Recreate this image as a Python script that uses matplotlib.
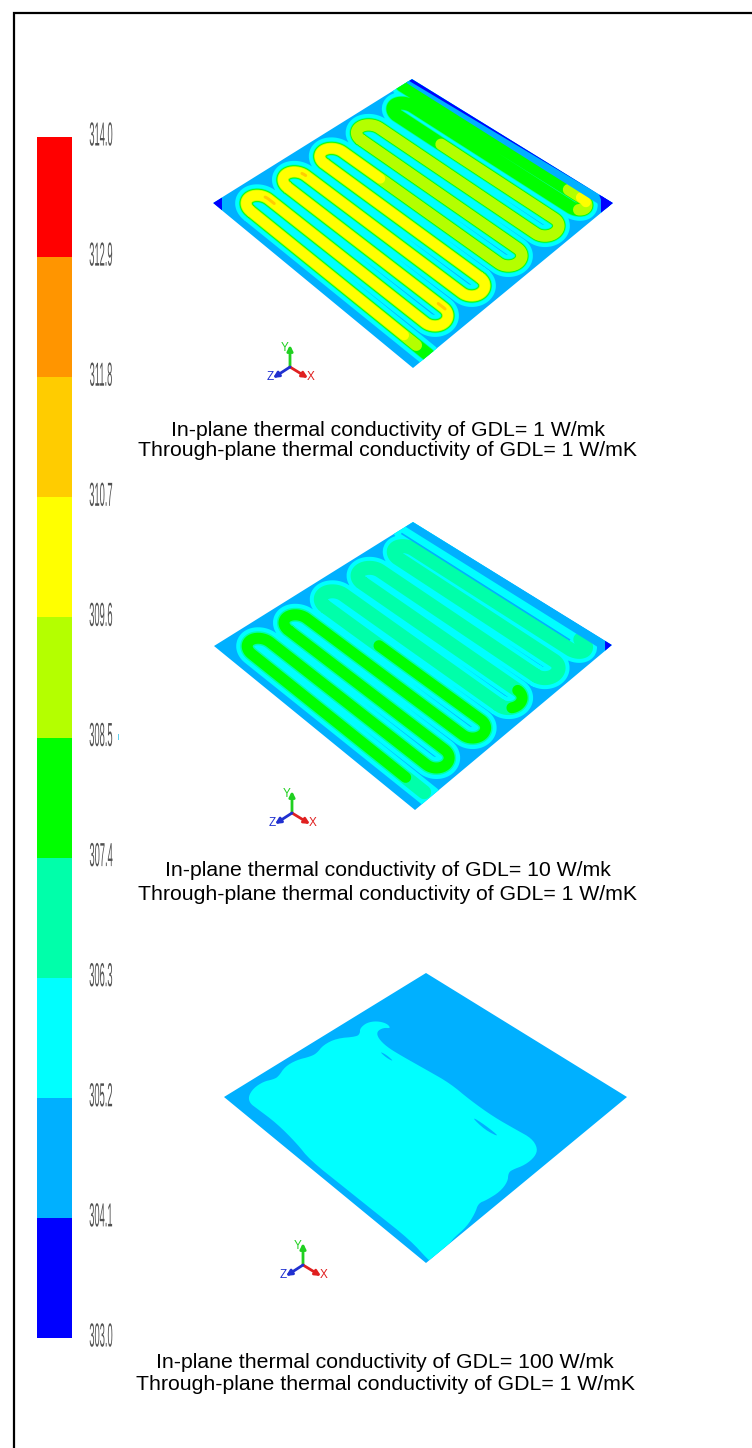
import matplotlib
matplotlib.use("Agg")
import matplotlib.pyplot as plt
from matplotlib.patches import Polygon, Rectangle
from matplotlib.patheffects import AbstractPathEffect
from matplotlib.transforms import Affine2D
import numpy as np

# colour scale
levels = [303.0, 304.1, 305.2, 306.3, 307.4, 308.5, 309.6, 310.7, 311.8, 312.9, 314.0]
level_colors = ["#0000FF", "#00B0FF", "#00FFFF", "#00FFAA", "#00FF00",
                "#B4FF00", "#FFFF00", "#FFCC00", "#FF9500", "#FF0000"]
DARK, BLUE, CYAN, SPRING, GREEN, LIME, YELLOW, GOLD = level_colors[:8]

captions = [
    ["In-plane thermal conductivity of GDL= 1 W/mk", "Through-plane thermal conductivity of GDL= 1 W/mK"],
    ["In-plane thermal conductivity of GDL= 10 W/mk", "Through-plane thermal conductivity of GDL= 1 W/mK"],
    ["In-plane thermal conductivity of GDL= 100 W/mk", "Through-plane thermal conductivity of GDL= 1 W/mK"],
]
caption_y = [[430, 451], [871, 894], [1362, 1385]]

# plate corners in the picture: left, top, right, bottom
plate_1 = [(213, 203), (412, 79), (613, 203), (413, 368)]
plate_2 = [(214, 646), (413, 522), (612, 645), (415, 810)]
plate_3 = [(224, 1097), (426, 973), (627, 1097), (426, 1263)]
triad_centres = [(290, 367), (292, 813), (303, 1265)]

# serpentine channel, position of each strand across the plate
strand_u = [.078, .17, .263, .355, .448, .54, .633, .725, .818, .893, .95]

# bands of the two serpentine plates: colour, width in px, spans along channel
bands_1 = [
    (CYAN, 22, [(0, 11)]),
    (SPRING, 14.5, [(0, 11)]),
    (GREEN, 13, [(0, 11)]),
    (LIME, 11.5, [(.05, 8.6), (9.85, 10.06)]),
    (YELLOW, 10, [(.1, 5.2), (9.95, 10.02)]),
    (GOLD, 3, [(.97, 1.03), (2.97, 3.02), (1.98, 2.03)]),
]
bands_2 = [
    (CYAN, 22, [(0, 11)]),
    (SPRING, 14, [(.02, 10)]),
    (GREEN, 11, [(.1, 4.55), (5.86, 6.0)]),
]

# plate 3 contour outline and slits, in px relative to the crop corner
outline_x = [115, 130, 160, 190, 205, 225, 260, 300, 320, 340, 380, 440, 450, 450, 470, 500, 530, 543,
             520, 500, 505, 530, 570, 650, 720, 780, 850, 920, 965, 983, 975, 945, 905, 895, 893, 870,
             830, 805, 795, 770, 730, 720, 660, 655, 600, 500, 400, 300, 260, 200, 140, 120]
outline_y = [410, 385, 365, 358, 350, 320, 300, 290, 280, 255, 235, 230, 220, 205, 188, 183, 190, 205,
             203, 215, 235, 260, 285, 330, 370, 420, 470, 510, 535, 565, 590, 615, 630, 640, 665, 695,
             720, 730, 760, 800, 835, 850, 900, 900, 840, 760, 680, 600, 550, 490, 445, 430]
slit_a_x = [508, 530, 552, 530]
slit_a_y = [274, 285, 305, 294]
slit_b_x = [782, 825, 872, 825]
slit_b_y = [468, 495, 533, 510]


class Squeeze(AbstractPathEffect):
    # narrow the glyphs sideways, the labels are stretched tall in the original
    def __init__(self, sx):
        super().__init__()
        self.sx = sx

    def draw_path(self, renderer, gc, tpath, affine, rgbFace=None):
        box = tpath.transformed(affine).get_extents()
        cx = (box.x0 + box.x1) / 2
        squeezed = affine + Affine2D().translate(-cx, 0).scale(self.sx, 1).translate(cx, 0)
        renderer.draw_path(gc, tpath, squeezed, rgbFace)


def to_px(plate, u, v):
    L, T, R, B = [np.array(c, dtype=float) for c in plate]
    u = np.asarray(u)[..., None]
    v = np.asarray(v)[..., None]
    return (1 - u) * (1 - v) * L + u * (1 - v) * T + u * v * R + (1 - u) * v * B


def channel_path():
    us, vs, ss = [], [], []
    r = .05
    for k, uk in enumerate(strand_u):
        going_up = k % 2 == 0
        v0 = 1.0 if k == 0 else (.89 if going_up else .11)
        v1 = 0.0 if k == 10 else (.11 if going_up else .89)
        t = np.linspace(0, .8, 30)
        us += [np.full(30, uk)]
        vs += [v0 + (v1 - v0) * t / .8]
        ss += [k + t]
        if k < 10:
            mid = (uk + strand_u[k + 1]) / 2
            half = (strand_u[k + 1] - uk) / 2
            a = np.linspace(np.pi, 0, 20)
            us += [mid + half * np.cos(a)]
            vs += [v1 + (-r if going_up else r) * np.sin(a)]
            ss += [k + .8 + .2 * np.linspace(0, 1, 20)]
    return np.concatenate(us), np.concatenate(vs), np.concatenate(ss)


def chaikin(x, y, n=2):
    p = np.column_stack([x, y]).astype(float)
    for _ in range(n):
        q = np.roll(p, -1, axis=0)
        p = np.column_stack([.75 * p + .25 * q, .25 * p + .75 * q]).reshape(-1, 2)
    return p


def serpentine(ax, plate, bands):
    clip = Polygon(plate, closed=True, transform=ax.transData, fc=BLUE, ec="none", zorder=1)
    ax.add_patch(clip)
    us, vs, ss = channel_path()
    xy = to_px(plate, us, vs)
    z = 2
    for color, width, spans in bands:
        for s0, s1 in spans:
            m = (ss >= s0) & (ss <= s1)
            line, = ax.plot(xy[m, 0], xy[m, 1], color=color, lw=width * .72, zorder=z,
                            solid_capstyle="round", solid_joinstyle="round")
            line.set_clip_path(clip)
        z += 1
    return clip, z


def triad(ax, cx, cy):
    arrows = [(0, -22, "#20D020", "Y", -5, -19), (18, 11, "#E02020", "X", 21, 10), (-17, 11, "#2030D0", "Z", -20, 10)]
    for dx, dy, color, name, tx, ty in arrows:
        ax.annotate("", xy=(cx + dx, cy + dy), xytext=(cx, cy),
                    arrowprops=dict(arrowstyle="-|>", color=color, lw=2, mutation_scale=8, shrinkA=0, shrinkB=0))
        ax.text(cx + tx, cy + ty, name, color=color, fontsize=8.5, ha="center", va="center", family="Liberation Sans")


fig = plt.figure(figsize=(7.52, 14.48), dpi=100)
ax = fig.add_axes([0, 0, 1, 1])
ax.set_xlim(0, 752)
ax.set_ylim(1448, 0)
ax.axis("off")

# frame
ax.add_patch(Rectangle((13.5, 13), 800, 1600, fc="white", ec="black", lw=1.6, zorder=0))

# colour bar drawn on its own axes, value scale runs upward
cax = fig.add_axes([37 / 752, 1 - 1338 / 1448, 35 / 752, 1201 / 1448])
cax.bar(np.zeros(10), np.diff(levels), bottom=levels[:-1], width=1, color=level_colors, align="center")
cax.set_xlim(-.5, .5)
cax.set_ylim(levels[0], levels[-1])
cax.axis("off")
for lev in levels:
    y = 1338 - (lev - 303.0) / 11.0 * 1201
    t = ax.text(101, y, "%.1f" % lev, fontsize=24, color="#505050", ha="center", va="center",
                family="Liberation Sans")
    t.set_path_effects([Squeeze(.28)])
ax.add_patch(Rectangle((117.5, 734), 1.2, 6, fc="#60D0F0", ec="none"))

# plate 1
clip, z = serpentine(ax, plate_1, bands_1)
for poly, color in [([(.97, 0), (1, 0), (1, 1), (.965, 1)], BLUE),
                    ([(.985, 0), (1, 0), (1, 1), (.96, 1), (1, .93)], DARK),
                    ([(0, 0), (.045, 0), (0, .045)], DARK),
                    ([(1, 1), (.94, 1), (1, .94)], DARK)]:
    p = Polygon([to_px(plate_1, a, b) for a, b in poly], fc=color, ec="none", zorder=z)
    ax.add_patch(p)
    p.set_clip_path(clip)

# plate 2
clip, z = serpentine(ax, plate_2, bands_2)
for poly, color in [([(.962, 0), (1, 0), (1, 1), (.962, 1)], BLUE),
                    ([(1, 1), (.965, 1), (1, .965)], DARK)]:
    p = Polygon([to_px(plate_2, a, b) for a, b in poly], fc=color, ec="none", zorder=z)
    ax.add_patch(p)
    p.set_clip_path(clip)
gap = to_px(plate_2, [.925, .925], [.02, .86])
ax.plot(gap[:, 0], gap[:, 1], color=BLUE, lw=1.2, zorder=z)

# plate 3, one contour with two slits
clip = Polygon(plate_3, closed=True, fc=BLUE, ec="none", zorder=1)
ax.add_patch(clip)
p = Polygon(chaikin(np.array(outline_x) / 3 + 210, np.array(outline_y) / 3 + 960), fc=CYAN, ec="none", zorder=2)
ax.add_patch(p)
p.set_clip_path(clip)
for sx, sy in [(slit_a_x, slit_a_y), (slit_b_x, slit_b_y)]:
    ax.add_patch(Polygon(chaikin(np.array(sx) / 3 + 210, np.array(sy) / 3 + 960), fc=BLUE, ec="none", zorder=3))

for cx, cy in triad_centres:
    triad(ax, cx, cy)

cap_x = [388, 388, 385]
for lines, ys, x in zip(captions, caption_y, cap_x):
    for line, y in zip(lines, ys):
        ax.text(x, y, line, fontsize=15.3, color="black", ha="center", va="center", family="Liberation Sans")

fig.savefig("out.png", dpi=100)
